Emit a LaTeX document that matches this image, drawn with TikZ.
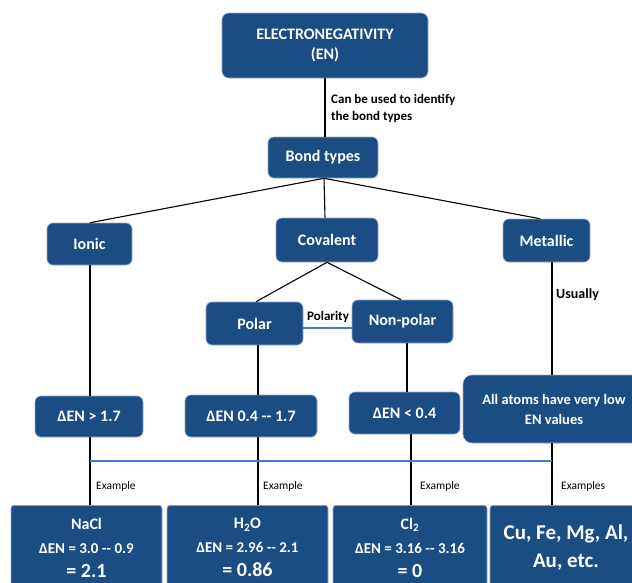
\documentclass[tikz,border=0pt]{standalone}
\usepackage{fontspec}
\setmainfont{Carlito}
\usetikzlibrary{calc}
\definecolor{boxblue}{RGB}{28,76,132}
\definecolor{boxedge}{RGB}{150,170,200}
\definecolor{linkblue}{RGB}{70,120,195}
\tikzset{
  box/.style={fill=boxblue, draw=boxedge, line width=0.6pt, rounded corners=6pt,
    text=white, font=\bfseries\fontsize{16}{19}\selectfont, align=center, inner sep=0pt},
  bbox/.style={box, rounded corners=3pt, anchor=north, minimum height=85,
    font=\bfseries\fontsize{15}{24}\selectfont},
  conn/.style={draw=black, line width=1.1pt},
  blueline/.style={draw=linkblue, line width=1.1pt},
  lbl/.style={font=\bfseries\fontsize{13}{17}\selectfont, text=black, align=left, inner sep=1pt},
  exlbl/.style={font=\fontsize{11.5}{14}\selectfont, text=black, inner sep=1pt, anchor=west}
}
\begin{document}
\begin{tikzpicture}[x=1pt,y=-1pt]
\clip (0,0) rectangle (632,582);
\fill[white] (0,0) rectangle (632,582);
% boxes
\node[box, minimum width=206, minimum height=65, rounded corners=7pt,
  font=\bfseries\fontsize{16}{20}\selectfont] (en) at (325,45.5) {ELECTRONEGATIVITY\\(EN)};
\node[box, minimum width=110, minimum height=41] (bond) at (323,157.5) {Bond types};
\node[box, minimum width=85, minimum height=42] (ionic) at (89.5,244) {Ionic};
\node[box, minimum width=102, minimum height=44] (cov) at (327,240) {Covalent};
\node[box, minimum width=87, minimum height=43] (met) at (546.5,240.5) {Metallic};
\node[box, minimum width=97, minimum height=43] (polar) at (254.5,323.5) {Polar};
\node[box, minimum width=101, minimum height=43] (nonpolar) at (402.5,321.5) {Non-polar};
\node[box, minimum width=108, minimum height=41] (d1) at (89,416.5) {ΔEN > 1.7};
\node[box, minimum width=132, minimum height=42] (d2) at (251,416) {ΔEN 0.4 -{}- 1.7};
\node[box, minimum width=111, minimum height=42] (d3) at (404.5,413) {ΔEN < 0.4};
\node[box, minimum width=182, minimum height=68, rounded corners=9pt,
  font=\bfseries\fontsize{14.5}{20}\selectfont] (d4) at (554,409) {All atoms have very low\\EN values};
\node[bbox, minimum width=151] (b1) at (86.5,505)
  {{\fontsize{16}{24}\selectfont NaCl}\\ΔEN = 3.0 -{}- 0.9\\{\fontsize{20}{24}\selectfont = 2.1}};
\node[bbox, minimum width=161] (b2) at (247.5,505)
  {{\fontsize{16}{24}\selectfont H\textsubscript{2}O}\\ΔEN = 2.96 -{}- 2.1\\{\fontsize{20}{24}\selectfont = 0.86}};
\node[bbox, minimum width=154] (b3) at (410,505)
  {{\fontsize{16}{24}\selectfont Cl\textsubscript{2}}\\ΔEN = 3.16 -{}- 3.16\\{\fontsize{20}{24}\selectfont = 0}};
\node[bbox, minimum width=152, font=\bfseries\fontsize{21}{28}\selectfont] (b4) at (566,505)
  {Cu, Fe, Mg, Al,\\Au, etc.};
% connectors
\draw[conn] (en.south) -- (en.south |- bond.north);
\node[lbl, anchor=west] (lab1) at (330,108.5) {Can be used to identify\\the bond types};
\draw[conn] ([xshift=1pt]bond.south) -- ([xshift=0.5pt]ionic.north);
\draw[conn] ([xshift=1pt]bond.south) -- ([xshift=-2pt]cov.north);
\draw[conn] ([xshift=1pt]bond.south) -- ([xshift=-6.5pt]met.north);
\draw[conn] (cov.south) -- ([xshift=1.5pt]polar.north);
\draw[conn] (cov.south) -- ([xshift=-1.5pt]nonpolar.north);
\draw[blueline] ([yshift=-4.5pt]polar.east) -- ([yshift=-4.5pt]polar.east -| nonpolar.west);
\node[lbl] (pol) at (328,317) {Polarity};
\draw[conn] ([xshift=0.5pt]ionic.south) -- ([xshift=0.5pt]ionic.south |- d1.north);
\draw[conn] ([xshift=3.5pt]polar.south) -- ([xshift=3.5pt]polar.south |- d2.north);
\draw[conn] ([xshift=4.5pt]nonpolar.south) -- ([xshift=4.5pt]nonpolar.south |- d3.north);
\draw[conn] ([xshift=5.5pt]met.south) -- ([xshift=5.5pt]met.south |- d4.north);
\node[lbl, anchor=west, font=\bfseries\fontsize{14}{17}\selectfont] (usu) at (555,295) {Usually};
\draw[conn] ([xshift=1pt]d1.south) -- ([xshift=1pt]d1.south |- b1.north);
\draw[conn] ([xshift=7pt]d2.south) -- ([xshift=7pt]d2.south |- b2.north);
\draw[conn] ([xshift=6.5pt]d3.south) -- ([xshift=6.5pt]d3.south |- b3.north);
\draw[conn] ([xshift=-2pt]d4.south) -- ([xshift=-2pt]d4.south |- b4.north);
\coordinate (hl) at (90,461);
\coordinate (hr) at (552,461);
\draw[blueline] (hl) -- (hr);
\node[exlbl] (ex1) at (95,486) {Example};
\node[exlbl] (ex2) at (262,486) {Example};
\node[exlbl] (ex3) at (419,486) {Example};
\node[exlbl] (ex4) at (560,486) {Examples};
\end{tikzpicture}
\end{document}
